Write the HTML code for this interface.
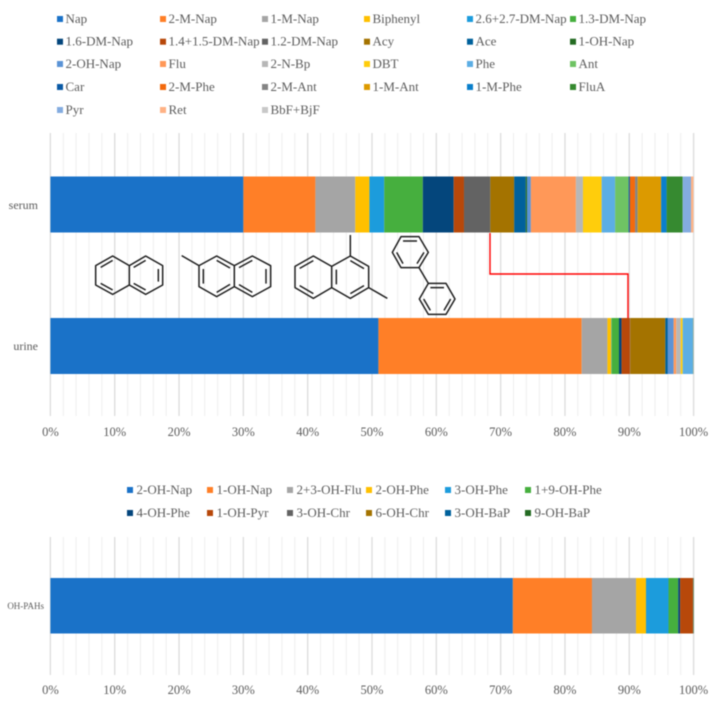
<!DOCTYPE html>
<html lang="en">
<head>
<meta charset="utf-8">
<title>PAH composition in serum and urine</title>
<style>
  html, body { margin: 0; padding: 0; background: #fff; }
  body { width: 716px; height: 704px; overflow: hidden; }
  svg { display: block; filter: blur(0.5px); }
  text { font-family: "Liberation Serif", serif; fill: #5c5c5c; }
</style>
</head>
<body>
<svg id="figure" xmlns="http://www.w3.org/2000/svg" width="716" height="704" viewBox="0 0 716 704">
  <g id="grid-top"></g>
  <g id="grid-bottom"></g>
  <g id="bars-top"></g>
  <g id="bars-bottom"></g>
  <g id="legend-top"></g>
  <g id="legend-bottom"></g>
  <g id="axis-top"></g>
  <g id="axis-bottom"></g>

  <polyline points="490,233 490,274 628,274 628,318" fill="none" stroke="#ff0000" stroke-width="1.4"/>

  <g transform="translate(80,225) scale(0.33333)" fill="none" stroke="#1c1c1c" stroke-width="4.4" stroke-linejoin="round">
    <g>
      <path d="M148 122L98 93L47 122V180L98 208L148 180V122L197 93L248 122V180L197 208L148 180"/>
      <path d="M62 127L98 106M62 175L98 195M161 127L197 106M161 175L197 195M235 132V170"/>
    </g>
    <g>
      <path d="M305 92L357 122V185L410 215L463 185V122L410 93L357 122M463 122L517 93L572 122V185L517 215L463 185"/>
      <path d="M370 132V176M410 106L450 129M410 202L450 178M477 128L517 106M477 179L517 202M558 132V176"/>
    </g>
    <g>
      <path d="M755 124L700 93L645 124V188L700 220L755 188V124L811 93L866 124V188L811 220L755 188M811 93V30M866 188L922 220"/>
      <path d="M659 130L700 107M659 182L700 206M769 134V178M811 107L852 131M811 206L852 182"/>
    </g>
    <g>
      <path d="M963 35H1017L1045 82L1017 128H963L937 82ZM1017 128L1045 175M1045 175H1098L1125 222L1098 268H1045L1018 222Z"/>
      <path d="M969 48H1011M1032 82L1011 116M969 116L950 82M1051 188H1092M1112 222L1092 256M1051 256L1031 222"/>
    </g>
  </g>
</svg>

<script>
// ---- Data: top chart ----
const topCategories = ["serum", "urine"];
const topSeriesNames = ["Nap","2-M-Nap","1-M-Nap","Biphenyl","2.6+2.7-DM-Nap","1.3-DM-Nap","1.6-DM-Nap","1.4+1.5-DM-Nap","1.2-DM-Nap","Acy","Ace","1-OH-Nap","2-OH-Nap","Flu","2-N-Bp","DBT","Phe","Ant","Car","2-M-Phe","2-M-Ant","1-M-Ant","1-M-Phe","FluA","Pyr","Ret","BbF+BjF"];
const serumValues = [30.0,11.2,6.2,2.2,2.3,6.0,4.8,1.6,4.1,3.7,1.8,0.2,0.6,7.0,1.1,2.9,2.1,2.1,0.2,0.8,0.4,3.65,0.85,2.5,1.3,0.37,0.03];
const urineValues = [51.0,31.6,4.0,0.6,0.05,1.15,0.4,1.3,0.05,5.45,0.4,0.0,0.9,0.4,0.7,0.3,1.6,0.03,0.01,0.01,0.01,0.01,0.01,0.01,0.0,0.0,0.0];

// ---- Data: bottom chart ----
const bottomCategories = ["OH-PAHs"];
const bottomSeriesNames = ["2-OH-Nap","1-OH-Nap","2+3-OH-Flu","2-OH-Phe","3-OH-Phe","1+9-OH-Phe","4-OH-Phe","1-OH-Pyr","3-OH-Chr","6-OH-Chr","3-OH-BaP","9-OH-BaP"];
const ohPahValues = [71.9,12.3,6.85,1.55,3.5,1.5,0.3,2.0,0.02,0.02,0.02,0.06];

const tickValues = [0,10,20,30,40,50,60,70,80,90,100];
const minorStep = 2;

// ---- Palette ----
const palette = ["#1a72c8","#ff7f27","#a5a5a5","#ffc000","#1c9cdc","#46af3e","#04467c","#b7480a","#636363","#a47300","#00619c","#246b23","#5b93d6","#ff9858","#b7b7b7","#ffcd0c","#5caee4","#6fc364","#0a5aa5","#f36a0d","#848484","#dc9a00","#0a7fcb","#368a30","#84ace0","#ffb285","#c8c8c8"];

const NS = "http://www.w3.org/2000/svg";
const xScale = v => 50.4 + v * 6.432;

function make(tag, attrs, parent) {
  const el = document.createElementNS(NS, tag);
  for (const k in attrs) el.setAttribute(k, attrs[k]);
  parent.appendChild(el);
  return el;
}

function drawGrid(parentId, y1, y2) {
  const parent = document.getElementById(parentId);
  for (let v = 0; v <= 100; v += minorStep) {
    const major = v % 10 === 0;
    const line = make("line", {
      x1: xScale(v), x2: xScale(v), y1: y1, y2: y2,
      stroke: major ? "#dcdcdc" : "#eeeeee",
      "stroke-width": major ? 1.3 : 1
    }, parent);
    
    
  }
}

function drawAxis(parentId, y) {
  const parent = document.getElementById(parentId);
  tickValues.forEach(v => {
    const t = make("text", { x: xScale(v), y: y, "text-anchor": "middle", "font-size": 12.5 }, parent);
    t.textContent = v + "%";
    
    
  });
}

function drawBar(parentId, values, names, y, h) {
  const parent = document.getElementById(parentId);
  let cum = 0;
  values.forEach((val, i) => {
    const r = make("rect", {
      x: xScale(cum), y: y,
      width: Math.max(0, xScale(cum + val) - xScale(cum)),
      height: h, fill: palette[i]
    }, parent);
    
    
    const title = make("title", {}, r);
    title.textContent = names[i] + ": " + val + "%";
    cum += val;
  });
}

function drawCategory(parentId, label, xEnd, y, size) {
  const parent = document.getElementById(parentId);
  const t = make("text", { x: xEnd, y: y, "text-anchor": "end", "font-size": size }, parent);
  t.textContent = label;
  
  
}

function drawLegend(parentId, names, colXs, textGap, rowYs, perRow) {
  const parent = document.getElementById(parentId);
  names.forEach((name, i) => {
    const col = i % perRow;
    const row = Math.floor(i / perRow);
    const sw = make("rect", { x: colXs[col], y: rowYs[row] - 3, width: 6, height: 6, fill: palette[i] }, parent);
    
    
    const t = make("text", { x: colXs[col] + textGap, y: rowYs[row] + 4, "font-size": 13 }, parent);
    t.textContent = name;
    
    
  });
}

drawGrid("grid-top", 133, 416);
drawGrid("grid-bottom", 537, 675);

drawBar("bars-top", serumValues, topSeriesNames, 176.5, 56);
drawBar("bars-top", urineValues, topSeriesNames, 318, 56);
drawBar("bars-bottom", ohPahValues, bottomSeriesNames, 578, 55.5);

drawCategory("bars-top", topCategories[0], 38, 209, 12);
drawCategory("bars-top", topCategories[1], 38, 350, 12);
drawCategory("bars-bottom", bottomCategories[0], 44, 609, 9);

drawAxis("axis-top", 436);
drawAxis("axis-bottom", 694);

drawLegend("legend-top", topSeriesNames, [57,160,262,364,467,570], 8.5, [19,41.7,64,87,110], 6);
drawLegend("legend-bottom", bottomSeriesNames, [127,207,287,366,445,525], 9.5, [490,513], 6);
</script>
</body>
</html>
